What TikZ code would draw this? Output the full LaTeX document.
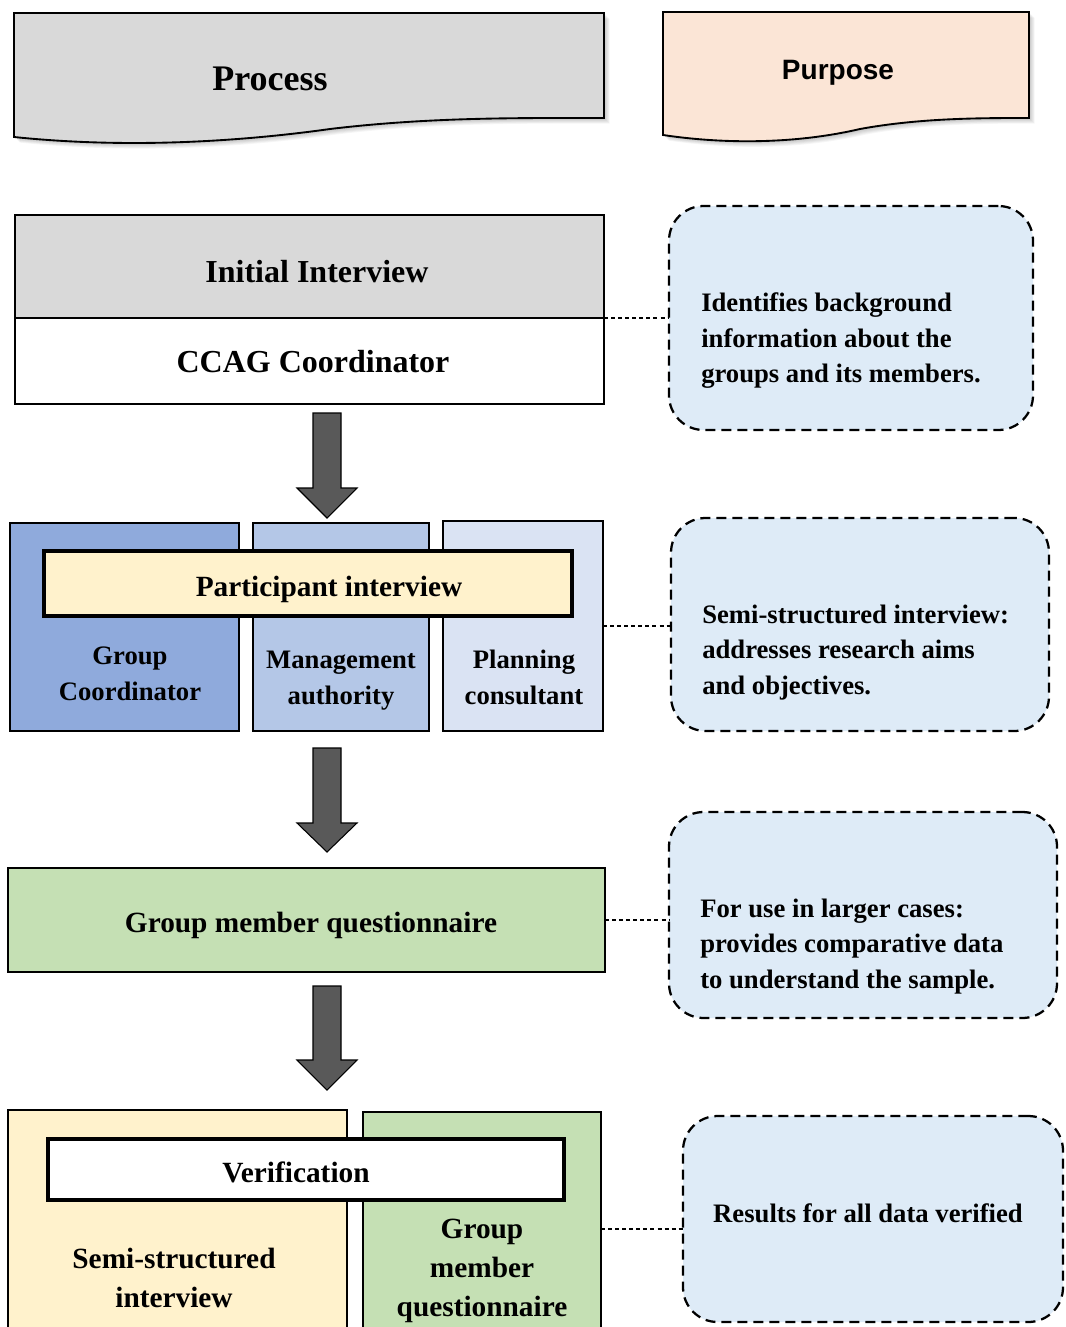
\documentclass[tikz,border=0pt]{standalone}
\usepackage{fontspec}
\setmainfont{Liberation Serif}
\newfontfamily\arialfont{Liberation Sans}
\usetikzlibrary{calc}

\definecolor{hdrgray}{HTML}{D9D9D9}
\definecolor{hdrpeach}{HTML}{FBE5D6}
\definecolor{blueA}{HTML}{8FAADC}
\definecolor{blueB}{HTML}{B4C7E7}
\definecolor{blueC}{HTML}{DAE3F3}
\definecolor{cream}{HTML}{FFF2CC}
\definecolor{sage}{HTML}{C5E0B4}
\definecolor{notefill}{HTML}{DEEBF7}
\definecolor{arrowgray}{HTML}{595959}

% rectangle node from corner (x1,y1) to (x2,y2): style, x1, y1, x2, y2, name
\newcommand\rectnode[6]{%
  \node[#1, rectangle, inner sep=0pt, outer sep=0pt,
        minimum width={(#4-#2)*0.75pt}, minimum height={(#5-#3)*0.75pt}]
        (#6) at ({(#2+#4)/2},{(#3+#5)/2}) {};}

% thick downward block arrow: shaft top, head base, tip
\newcommand\bigdown[3]{%
  \filldraw[bigarrow] (313,#1) -- (341,#1) -- (341,#2) -- (357,#2)
    -- (327,#3) -- (297,#2) -- (313,#2) -- cycle;}

\tikzset{
  box/.style={draw=black, line width=1.4pt},
  band/.style={draw=black, line width=3pt},
  notebox/.style={draw=black, fill=notefill, line width=1.7pt,
                  dash pattern=on 7.5pt off 4.5pt, rounded corners=26pt},
  conn/.style={draw=black, line width=0.8pt, dash pattern=on 3pt off 2.3pt},
  bigarrow/.style={fill=arrowgray, draw=black, line width=0.8pt},
  lbl/.style={font=\bfseries\fontsize{22}{29.25}\selectfont, align=center,
              inner sep=0pt},
  sublbl/.style={font=\bfseries\fontsize{20}{27}\selectfont, align=center,
                 inner sep=0pt},
  notetxt/.style={font=\bfseries\fontsize{20}{26.6}\selectfont, align=left,
                  inner sep=0pt, anchor=north west},
}

\begin{document}
\begin{tikzpicture}[x=0.75pt, y=-0.75pt]
\useasboundingbox (0,0) rectangle (1065,1327);
\clip (0,0) rectangle (1065,1327);
\fill[white] (0,0) rectangle (1065,1327);

% ---- column headers (document shapes with soft shadow) ----
\foreach \s in {1,...,7}{
  \fill[black, opacity=0.035, xshift=\s*0.6pt, yshift=-\s*0.6pt]
    (14,13) -- (604,13) -- (604,118) .. controls (520,118) and (430,117) ..
    (330,129) .. controls (230,143) and (120,148) .. (14,137) -- cycle;
  \fill[black, opacity=0.035, xshift=\s*0.6pt, yshift=-\s*0.6pt]
    (663,12) -- (1029,12) -- (1029,118) .. controls (980,118) and (920,118) ..
    (860,129) .. controls (800,143) and (730,145) .. (663,135) -- cycle;
}
\filldraw[fill=hdrgray, draw=black, line width=1.4pt]
  (14,13) -- (604,13) -- (604,118) .. controls (520,118) and (430,117) ..
  (330,129) .. controls (230,143) and (120,148) .. (14,137) -- cycle;
\filldraw[fill=hdrpeach, draw=black, line width=1.4pt]
  (663,12) -- (1029,12) -- (1029,118) .. controls (980,118) and (920,118) ..
  (860,129) .. controls (800,143) and (730,145) .. (663,135) -- cycle;
\node[font=\bfseries\fontsize{27}{32}\selectfont, inner sep=0pt]
  (process) at (270,79) {Process};
\node[font=\arialfont\bfseries\fontsize{21}{25}\selectfont, inner sep=0pt]
  (purpose) at (838,73) {Purpose};

% ---- step 1: initial interview ----
\rectnode{box, fill=hdrgray}{15}{215}{604}{318}{init}
\rectnode{box, fill=white}{15}{318}{604}{404}{coord}
\node[lbl, font=\bfseries\fontsize{24}{30}\selectfont] (initT) at (317,272) {Initial Interview};
\node[lbl, font=\bfseries\fontsize{24}{30}\selectfont] (coordT) at (313,362) {CCAG Coordinator};

\bigdown{413}{488}{518}

% ---- step 2: participant interview ----
\rectnode{box, fill=blueA}{10}{523}{239}{731}{gc}
\rectnode{box, fill=blueB}{253}{523}{429}{731}{ma}
\rectnode{box, fill=blueC}{443}{521}{603}{731}{pc}
\rectnode{band, fill=cream}{44}{551}{572}{616}{pint}
\node[lbl] (pintT) at (329,589) {Participant interview};
\node[sublbl] (gcT) at (130,674) {Group\\Coordinator};
\node[sublbl] (maT) at (341,681) {Management\\authority};
\node[sublbl] (pcT) at (524,677) {Planning\\consultant};

\bigdown{748}{823}{852}

% ---- step 3: questionnaire ----
\rectnode{box, fill=sage}{8}{868}{605}{972}{gmq}
\node[lbl] (gmqT) at (311,925) {Group member questionnaire};

\bigdown{986}{1060}{1090}

% ---- step 4: verification ----
\rectnode{box, fill=cream}{8}{1110}{347}{1345}{ssi}
\rectnode{box, fill=sage}{363}{1112}{601}{1346}{gmq2}
\rectnode{band, fill=white}{48}{1139}{564}{1200}{verif}
\node[lbl] (verifT) at (296,1172) {Verification};
\node[lbl] (ssiT) at (174,1278) {Semi-structured\\interview};
\node[lbl] (gmq2T) at (482,1271) {Group\\member\\questionnaire};

% ---- purpose notes ----
\rectnode{notebox}{669}{206}{1033}{430}{n1}
\rectnode{notebox}{671}{518}{1049}{731}{n2}
\rectnode{notebox}{669}{812}{1057}{1018}{n3}
\rectnode{notebox}{683}{1116}{1063}{1322}{n4}

\node[notetxt] (n1T) at (701,292.5) {Identifies background\\information about the\\groups and its members.};
\node[notetxt] (n2T) at (702,604.5) {Semi-structured interview:\\addresses research aims\\and objectives.};
\node[notetxt] (n3T) at (700,898.5) {For use in larger cases:\\provides comparative data\\to understand the sample.};
\node[sublbl] (n4T) at (868,1213) {Results for all data verified};

% ---- dashed links from steps to purposes ----
\draw[conn] (init.south east) -- (init.south east -| n1.west);
\draw[conn] (pc.east) -- (pc.east -| n2.west);
\draw[conn] (gmq.east) -- (gmq.east -| n3.west);
\draw[conn] (gmq2.east) -- (gmq2.east -| n4.west);
\end{tikzpicture}
\end{document}
